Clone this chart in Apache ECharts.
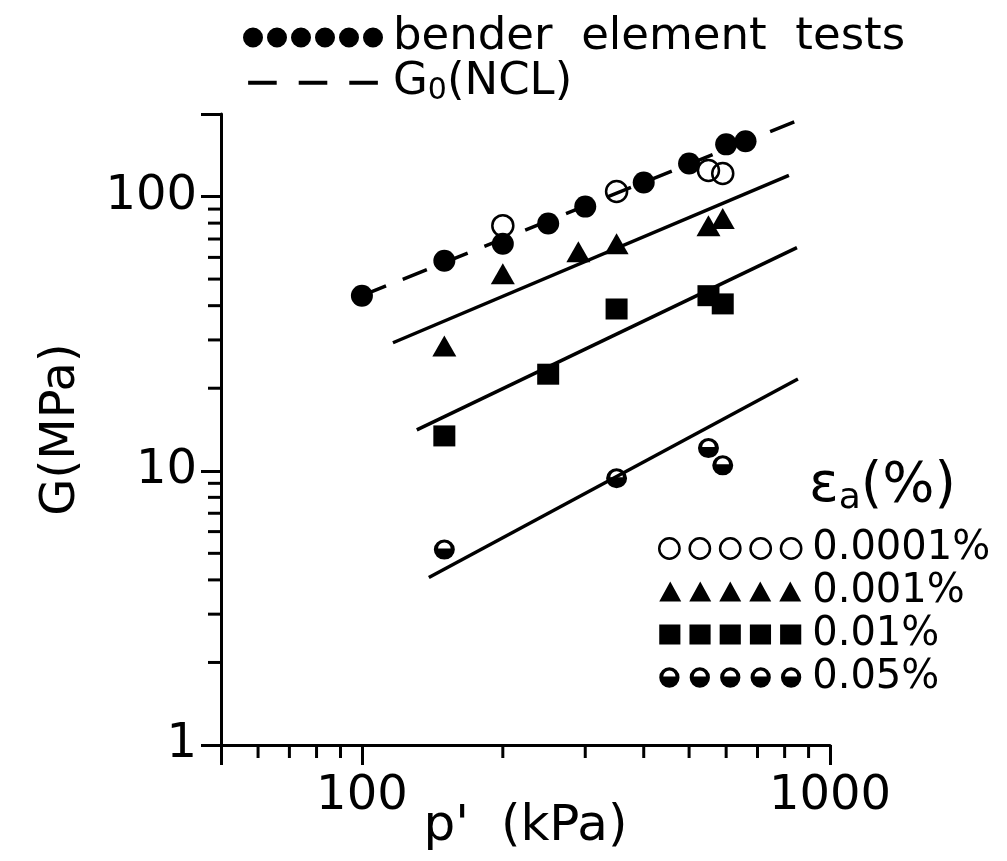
<!DOCTYPE html>
<html>
<head>
<meta charset="utf-8">
<script src="https://cdn.jsdelivr.net/npm/echarts@6/dist/echarts.min.js"></script>
<style>
html,body{margin:0;padding:0;background:#fff;}
#c{width:1007px;height:861px;}
</style>
</head>
<body>
<div id="c"></div>
<script>
// ---------- data ----------
const benderP = [100, 150, 200, 250, 300, 400, 500, 600, 660];
const benderG = [43.5, 58.3, 67.3, 79.7, 91.9, 112.5, 132, 155, 159];

const e0001P = [200, 350, 550, 590];
const e0001G = [78.3, 104.3, 124.5, 121.4];

const e001P = [150, 200, 290, 350, 550, 590];
const e001G = [28.5, 52.3, 62.9, 67.3, 78.3, 83.1];

const e01P = [150, 250, 350, 550, 590];
const e01G = [13.4, 22.5, 38.9, 43.5, 40.6];

const e05P = [150, 350, 550, 590];
const e05G = [5.16, 9.39, 12.1, 10.47];

const nclP = [100, 863];
const nclG = [43.5, 191];

const fit001P = [116.5, 817];
const fit001G = [29.3, 119.4];
const fit01P = [131, 850];
const fit01G = [14.1, 65.1];
const fit05P = [139, 854];
const fit05G = [4.08, 21.6];

const xTickLabels = [100, 1000];
const yTickLabels = [1, 10, 100];
const xMinorTicks = [60, 70, 80, 90, 200, 300, 400, 500, 600, 700, 800, 900];
const yMinorTicks = [2, 3, 4, 5, 6, 7, 8, 9, 20, 30, 40, 50, 60, 70, 80, 90];

const legendTop = ['bender element tests', 'G0(NCL)'];
const legendRight = ['0.0001%', '0.001%', '0.01%', '0.05%'];
const legendRightTitle = 'ε{sub|a}(%)';

// ---------- helpers ----------
const FONT = 'DejaVu Sans';
const FW = 'normal';
const zip = (a, b) => a.map((v, i) => [v, b[i]]);

function circleSub(cx, cy, r) {
  return `M${cx - r} ${cy}A${r} ${r} 0 1 1 ${cx + r} ${cy}A${r} ${r} 0 1 1 ${cx - r} ${cy}Z`;
}
function halfSub(ox) {
  // black disc with a white dome-shaped hole in its upper half
  return circleSub(ox + 10, 10, 10) + `M${ox + 4} 9L${ox + 16} 9A6 6 0 0 0 ${ox + 4} 9Z`;
}
function rowIcon(n, pitch, fn) {
  let s = '';
  for (let i = 0; i < n; i++) s += fn(i * pitch);
  return 'path://' + s;
}
const iconCircles6 = rowIcon(6, 24, ox => circleSub(ox + 10, 10, 10));
const iconDashes = 'path://M0 0h0.01v0.01h-0.01Z M0 8.5h26v3.5H0Z M46 8.5h26v3.5H46Z M92 8.5h26v3.5H92Z M0 20h0.01v0.01h-0.01Z';
const iconOpen5 = rowIcon(5, 30, ox => circleSub(ox + 11, 11, 10));
const iconTri5 = rowIcon(5, 30, ox => `M${ox} 20L${ox + 11} 0L${ox + 22} 20Z`);
const iconSq5 = rowIcon(5, 30, ox => `M${ox} 0h21v20H${ox}Z`);
const iconHalf5 = rowIcon(5, 30, ox => halfSub(ox));
const halfSymbol = 'path://' + halfSub(0);

const chart = echarts.init(document.getElementById('c'), null, { renderer: 'canvas' });

const black = '#000';
const lineSeries = (name, p, g, dashed) => ({
  name, type: 'line', data: zip(p, g), showSymbol: false, symbol: 'none',
  silent: true, z: 2,
  lineStyle: { color: black, width: 3.5, type: dashed ? [26, 18] : 'solid' },
  itemStyle: { color: black }
});

const option = {
  animation: false,
  backgroundColor: '#fff',
  textStyle: { fontFamily: FONT, color: black, fontWeight: FW },
  grid: { left: 221, top: 114, right: 177, bottom: 116, outerBoundsMode: 'none', containLabel: false },
  title: {
    text: legendRightTitle,
    left: 804, top: 452,
    textStyle: {
      fontFamily: FONT, fontSize: 55, fontWeight: FW, color: black,
      rich: { sub: { fontFamily: FONT, fontSize: 36, fontWeight: FW, color: black, padding: [24, 0, 0, 0] } }
    }
  },
  legend: [
    {
      orient: 'vertical', left: 238, top: 10, itemGap: 0,
      itemWidth: 140, itemHeight: 22,
      selectedMode: false,
      data: [
        { name: legendTop[0], icon: iconCircles6, itemStyle: { color: black, borderWidth: 0 } },
        { name: legendTop[1], icon: iconDashes, itemStyle: { color: black, borderWidth: 0 } }
      ],
      formatter: n => n === 'G0(NCL)' ? 'G{sub|0}(NCL)' : n.replace(/ /g, '  '),
      textStyle: {
        fontFamily: FONT, fontSize: 45, fontWeight: FW, color: black, lineHeight: 44, padding: [0, 0, 0, 5],
        rich: { sub: { fontFamily: FONT, fontSize: 30, fontWeight: FW, color: black, padding: [18, 0, 0, 0] } }
      }
    },
    {
      orient: 'vertical', left: 653, top: 522, itemGap: 0,
      itemWidth: 142, itemHeight: 21,
      selectedMode: false,
      data: [
        { name: legendRight[0], icon: iconOpen5, itemStyle: { color: 'rgba(0,0,0,0)', borderColor: black, borderWidth: 2.5 } },
        { name: legendRight[1], icon: iconTri5, itemStyle: { color: black, borderWidth: 0 } },
        { name: legendRight[2], icon: iconSq5, itemStyle: { color: black, borderWidth: 0 } },
        { name: legendRight[3], icon: iconHalf5, itemStyle: { color: black, borderWidth: 0 } }
      ],
      textStyle: { fontFamily: FONT, fontSize: 40, fontWeight: FW, color: black, lineHeight: 43, padding: [0, 0, 0, 6] }
    }
  ],
  xAxis: {
    type: 'log', logBase: 10, min: 50, max: 1000,
    name: "p'  (kPa)", nameLocation: 'middle', nameGap: 57, nameMoveOverlap: false,
    nameTextStyle: { fontFamily: FONT, fontSize: 50, fontWeight: FW, color: black },
    axisLine: { lineStyle: { color: black, width: 3 } },
    axisTick: { length: 20, lineStyle: { color: black, width: 3 } },
    axisLabel: {
      margin: 28, fontSize: 48, fontWeight: FW, color: black, fontFamily: FONT,
      formatter: v => xTickLabels.includes(Math.round(v)) ? String(Math.round(v)) : ''
    },
    splitLine: { show: false }, minorTick: { show: false }, minorSplitLine: { show: false }
  },
  yAxis: {
    type: 'log', logBase: 10, min: 1, max: 200,
    name: 'G(MPa)', nameLocation: 'middle', nameGap: 135, nameRotate: 90, nameMoveOverlap: false,
    nameTextStyle: { fontFamily: FONT, fontSize: 48, fontWeight: FW, color: black },
    axisLine: { lineStyle: { color: black, width: 3 } },
    axisTick: { length: 20, lineStyle: { color: black, width: 3 } },
    axisLabel: {
      margin: 24, fontSize: 48, fontWeight: FW, color: black, fontFamily: FONT,
      formatter: v => yTickLabels.includes(Math.round(v)) ? String(Math.round(v)) : ''
    },
    splitLine: { show: false }, minorTick: { show: false }, minorSplitLine: { show: false }
  },
  series: [
    lineSeries('G0(NCL)', nclP, nclG, true),
    lineSeries('fit 0.001%', fit001P, fit001G, false),
    lineSeries('fit 0.01%', fit01P, fit01G, false),
    lineSeries('fit 0.05%', fit05P, fit05G, false),
    {
      name: 'bender element tests', type: 'scatter', data: zip(benderP, benderG),
      symbol: 'circle', symbolSize: 22, z: 3, silent: true,
      itemStyle: { color: black, opacity: 1 }
    },
    {
      name: '0.0001%', type: 'scatter', data: zip(e0001P, e0001G),
      symbol: 'circle', symbolSize: 21, z: 4, silent: true,
      itemStyle: { color: 'rgba(0,0,0,0)', borderColor: black, borderWidth: 2.5, opacity: 1 }
    },
    {
      name: '0.001%', type: 'scatter', data: zip(e001P, e001G),
      symbol: 'triangle', symbolSize: [24, 21], z: 3, silent: true,
      itemStyle: { color: black, opacity: 1 }
    },
    {
      name: '0.01%', type: 'scatter', data: zip(e01P, e01G),
      symbol: 'rect', symbolSize: [22, 21], z: 3, silent: true,
      itemStyle: { color: black, opacity: 1 }
    },
    {
      name: '0.05%', type: 'scatter', data: zip(e05P, e05G),
      symbol: halfSymbol, symbolSize: [21, 20], z: 3, silent: true,
      itemStyle: { color: black, opacity: 1 }
    },
    {
      name: 'x minor ticks', type: 'scatter', silent: true, clip: false, z: 1,
      data: xMinorTicks.map(v => [v, 1]),
      symbol: 'rect', symbolSize: [3, 13], symbolOffset: [0, 6.5],
      itemStyle: { color: black, opacity: 1 }
    },
    {
      name: 'y minor ticks', type: 'scatter', silent: true, clip: false, z: 1,
      data: yMinorTicks.map(v => [50, v]),
      symbol: 'rect', symbolSize: [13, 3], symbolOffset: [-6.5, 0],
      itemStyle: { color: black, opacity: 1 }
    }
  ]
};
chart.setOption(option);
</script>
</body>
</html>
